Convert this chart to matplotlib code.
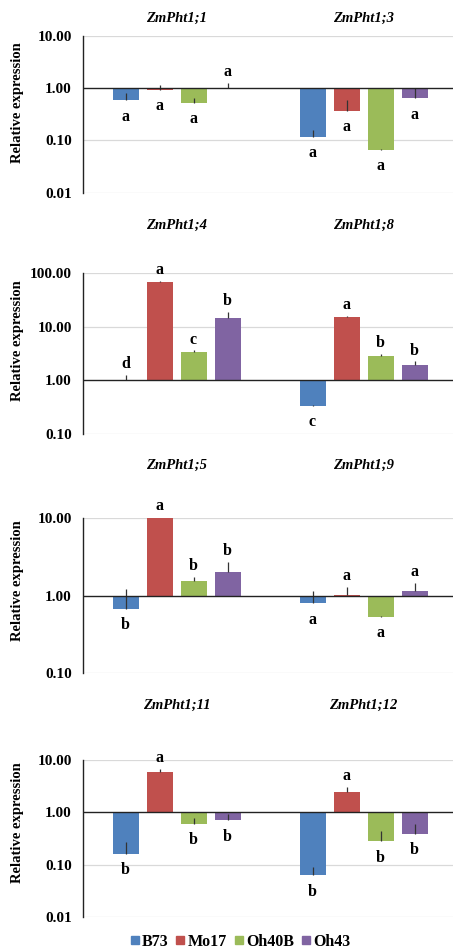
import matplotlib
matplotlib.use("Agg")
import matplotlib.pyplot as plt
from matplotlib.lines import Line2D
import numpy as np

# data (relative expression, log scale, baseline 1.0)
lines_ = ["B73", "Mo17", "Oh40B", "Oh43"]
colors = ["#4F81BD", "#C0504D", "#9BBB59", "#8064A2"]

genes = [
    ["ZmPht1;1", "ZmPht1;3"],
    ["ZmPht1;4", "ZmPht1;8"],
    ["ZmPht1;5", "ZmPht1;9"],
    ["ZmPht1;11", "ZmPht1;12"],
]

# values[panel][gene][line]
values = [
    [[0.59, 0.92, 0.53, 1.02], [0.116, 0.37, 0.066, 0.64]],
    [[1.03, 66.7, 3.35, 14.7], [0.34, 15.2, 2.82, 1.9]],
    [[0.68, 10.4, 1.54, 2.04], [0.80, 1.01, 0.54, 1.16]],
    [[0.16, 6.0, 0.61, 0.70], [0.063, 2.44, 0.28, 0.39]],
]
# upper end of each error bar
upper = [
    [[0.80, 1.14, 0.64, 1.25], [0.16, 0.60, 0.068, 1.0]],
    [[1.25, 71.0, 3.6, 18.5], [0.35, 16.0, 3.1, 2.25]],
    [[1.21, 10.6, 1.77, 2.77], [1.15, 1.29, 0.55, 1.46]],
    [[0.27, 6.7, 0.77, 0.94], [0.09, 3.1, 0.44, 0.60]],
]
letters = [
    [["a", "a", "a", "a"], ["a", "a", "a", "a"]],
    [["d", "a", "c", "b"], ["c", "a", "b", "b"]],
    [["b", "a", "b", "b"], ["a", "a", "a", "a"]],
    [["b", "a", "b", "b"], ["b", "a", "b", "b"]],
]
ylims = [(0.01, 10), (0.1, 100), (0.1, 10), (0.01, 10)]

# layout in pixels (top, bottom) of each plot area, title y, ylabel centre y
W, H = 453, 950
panel_px = [(36, 192.7), (272.7, 434.3), (518.3, 673.3), (760, 917)]
title_px = [18, 225, 465, 705]
ylab_px = [103, 341, 581, 823]
ax_left, ax_right = 83, 457

serif = ["Liberation Serif", "DejaVu Serif"]
plt.rcParams["font.family"] = serif
plt.rcParams["font.weight"] = "bold"

fig = plt.figure(figsize=(W / 100, H / 100), dpi=100)

group_x = np.array([0.0, 1.0])
step = 34 / 187
offsets = (np.arange(4) - 1.5) * step
bar_w = 26 / 187

for p in range(4):
    top, bot = panel_px[p]
    ax = fig.add_axes([ax_left / W, 1 - bot / H, (ax_right - ax_left) / W, (bot - top) / H])
    ax.set_yscale("log")
    ax.set_ylim(*ylims[p])
    ax.set_xlim(-0.5, 1.5)
    lo, hi = ylims[p]
    ticks = [10.0 ** k for k in range(int(round(np.log10(lo))), int(round(np.log10(hi))) + 1)]
    ax.set_yticks(ticks)
    ax.set_yticklabels([f"{t:.2f}" for t in ticks], fontsize=11, fontweight="bold")
    ax.yaxis.set_minor_locator(matplotlib.ticker.NullLocator())
    ax.tick_params(axis="y", length=0, pad=8)
    ax.set_xticks([])
    for t in ticks:
        if t != 1.0:
            ax.axhline(t, color="#D9D9D9", lw=0.9, zorder=0)
    for s in ["top", "right", "bottom"]:
        ax.spines[s].set_visible(False)
    ax.spines["left"].set_color("#222222")
    ax.spines["left"].set_linewidth(1.0)

    for g in range(2):
        for i in range(4):
            x = group_x[g] + offsets[i]
            v = values[p][g][i]
            u = upper[p][g][i]
            ax.bar(x, v - 1, bottom=1, width=bar_w, color=colors[i], zorder=2)
            ax.vlines(x, v, u, color="#333333", lw=0.9, zorder=3)
            if v >= 1:
                ax.annotate(letters[p][g][i], (x, max(u, v)), xytext=(0, 2),
                            textcoords="offset points", ha="center", va="bottom",
                            fontsize=11.5, fontweight="bold", annotation_clip=False)
            else:
                ax.annotate(letters[p][g][i], (x, v), xytext=(0, -6),
                            textcoords="offset points", ha="center", va="top",
                            fontsize=11.5, fontweight="bold", annotation_clip=False)
        fig.text((ax_left + 93.5 + 187 * g) / W, 1 - title_px[p] / H, genes[p][g],
                 ha="center", va="center", fontsize=10.5, fontweight="bold", style="italic")
    ax.axhline(1.0, color="#222222", lw=1.0, zorder=4)
    fig.text(18 / W, 1 - ylab_px[p] / H, "Relative expression", rotation=90,
             ha="center", va="center", fontsize=10.5, fontweight="bold")

handles = [Line2D([], [], marker="s", ls="", color=c, markersize=6) for c in colors]
fig.legend(handles, lines_, loc="center", bbox_to_anchor=(240 / W, 1 - 942 / H), ncol=4,
           frameon=False, handletextpad=0.15, columnspacing=0.45, handlelength=0.6,
           prop={"family": serif, "weight": "bold", "size": 11.5})

fig.savefig("out.png", dpi=100)
